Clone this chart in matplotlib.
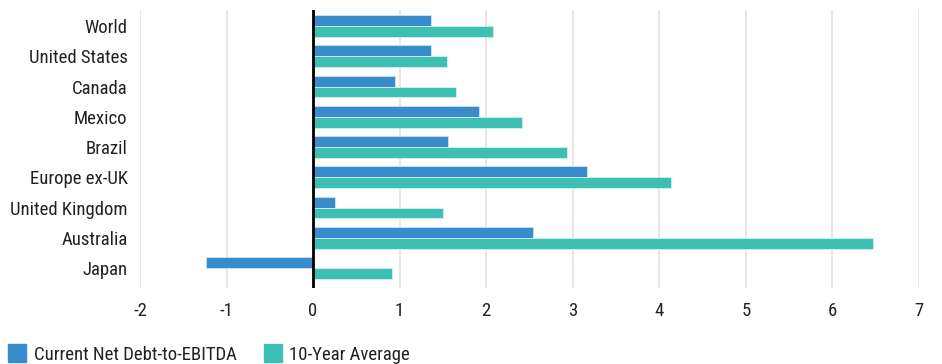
import matplotlib
matplotlib.use("Agg")
import matplotlib.pyplot as plt
from matplotlib.patches import Patch
from matplotlib import font_manager

regions = ["World", "United States", "Canada", "Mexico", "Brazil",
           "Europe ex-UK", "United Kingdom", "Australia", "Japan"]
current_debt = [1.36, 1.36, 0.95, 1.92, 1.56, 3.16, 0.25, 2.54, -1.24]
ten_year_avg = [2.08, 1.55, 1.65, 2.41, 2.93, 4.13, 1.50, 6.47, 0.91]
x_ticks = [-2, -1, 0, 1, 2, 3, 4, 5, 6, 7]

names = {f.name for f in font_manager.fontManager.ttflist}
family = "Roboto Condensed" if "Roboto Condensed" in names else "Roboto"
plt.rcParams["font.family"] = [family, "DejaVu Sans"]

BLUE = "#388CCB"
TEAL = "#3DBFB4"
TEXT = "#222222"

fig = plt.figure(figsize=(9.42, 3.64), dpi=100)
ax = fig.add_axes([140 / 942, 1 - 288 / 364, (919 - 140) / 942, 278 / 364])

ys = list(range(len(regions)))
h = 0.36
ax.barh([y - h / 2 for y in ys], current_debt, height=h, color=BLUE,
        edgecolor="#cfe3f3", linewidth=0.6, zorder=3)
ax.barh([y + h / 2 for y in ys], ten_year_avg, height=h, color=TEAL,
        edgecolor="#d3f0ec", linewidth=0.6, zorder=3)

ax.set_xlim(-2, 7)
ax.set_ylim(8.66, -0.53)
ax.set_xticks(x_ticks)
ax.set_xticklabels([str(t) for t in x_ticks])
ax.set_yticks(ys)
ax.set_yticklabels(regions)

ax.grid(axis="x", color="#e3e3e3", linewidth=1.2, zorder=0)
ax.axvline(0, color="black", linewidth=2, zorder=4)
for s in ax.spines.values():
    s.set_visible(False)
ax.tick_params(axis="both", length=0, labelsize=13.5, colors=TEXT)
ax.tick_params(axis="x", pad=10)
ax.tick_params(axis="y", pad=9)

handles = [Patch(color=BLUE, label="Current Net Debt-to-EBITDA"),
           Patch(color=TEAL, label="10-Year Average")]
fig.legend(handles=handles, loc="lower left", bbox_to_anchor=(-0.009, -0.045),
           ncol=2, frameon=False, fontsize=13.5, handlelength=0.95,
           handleheight=1.1, handletextpad=0.4, columnspacing=1.45,
           labelcolor=TEXT)

fig.savefig("out.png", dpi=100)
